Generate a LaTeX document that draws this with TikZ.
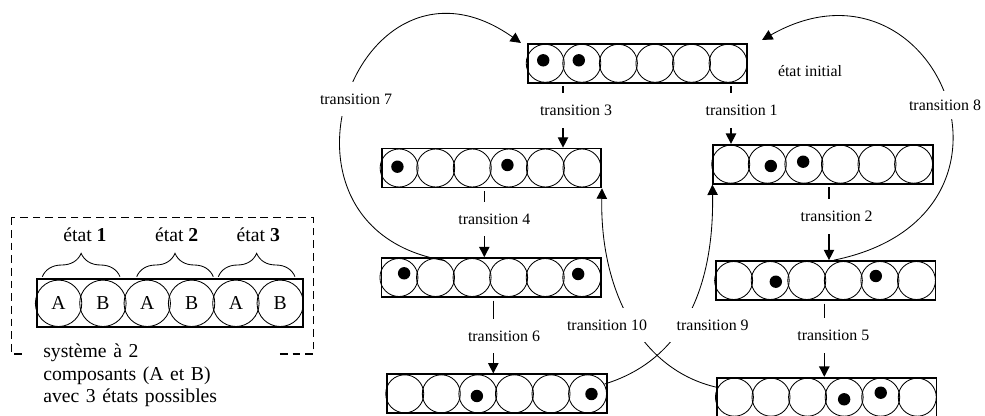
\documentclass[tikz,border=0pt]{standalone}
\usepackage{fontspec}
\setmainfont{Liberation Serif}
\usetikzlibrary{arrows.meta, calc, decorations.pathreplacing}

\begin{document}
\begin{tikzpicture}[
        x=0.025cm, y=-0.025cm,
        strip/.style={rectangle, draw, line width=1.2pt, minimum width=5.485cm, minimum height=0.975cm, inner sep=0pt},
        cell/.style={circle, draw, line width=0.6pt, minimum size=0.95cm, inner sep=0pt},
        dot/.style={circle, fill, minimum size=0.31cm, inner sep=0pt},
        keystrip/.style={rectangle, draw, line width=1.2pt, minimum width=6.65cm, minimum height=1.2cm, inner sep=0pt},
        keycell/.style={circle, draw, line width=0.6pt, minimum size=1.16cm, inner sep=0pt, font=\fontsize{14}{16}\selectfont},
        keytext/.style={font=\fontsize{14}{16}\selectfont},
        tlabel/.style={fill=white, inner xsep=5pt, inner ysep=8.5pt, text height=7.5pt, text depth=0pt, font=\fontsize{11.3}{13}\selectfont},
        arrow/.style={-{Triangle[length=2.6mm, width=2.6mm]}, line width=0.9pt},
        curved/.style={-{Triangle[length=2.6mm, width=2.6mm]}, line width=0.6pt},
        brace/.style={decorate, decoration={brace, amplitude=0.585cm}, line width=0.6pt}
    ]
    \useasboundingbox (0,0) rectangle (985,415);

    % legende
    \draw[dash pattern=on 5.5pt off 3.5pt, line width=0.9pt] (11.7,217.3) rectangle (313.3,354);
    \node[keystrip] (key) at (170.3,303.3) {};
    \foreach \i/\l in {1/A,2/B,3/A,4/B,5/A,6/B}
        \node[keycell] (key-\i) at ($(key.west)+({44.33*\i-22.17},0)$) {\l};
    \draw[brace] (42.3,276.7) -- (120,276.7);
    \draw[brace] (136.7,276.7) -- (213.3,276.7);
    \draw[brace] (218.3,276.7) -- (295,276.7);
    \node[keytext] (e1) at (85,235) {état \textbf{1}};
    \node[keytext] (e2) at (176.7,235) {état \textbf{2}};
    \node[keytext] (e3) at (258.3,235) {état \textbf{3}};
    \node[keytext, anchor=north west, fill=white, text width=5.4cm, inner xsep=0.45cm, inner ysep=2pt, align=left] (note) at (25,341)
        {système à 2\\composants (A et B)\\avec 3 états possibles};

    % etats
    \foreach \s/\x/\y in {init/637.5/63.3, left1/491.4/168, right1/823/164.2, left2/491.2/277.5,
                           right2/825.9/280.5, left3/497/393.8, right3/826.7/397.2} {
        \node[strip] (\s) at (\x,\y) {};
        \foreach \i in {1,...,6}
            \node[cell] (\s-\i) at ($(\s.west)+({36.57*\i-18.27},0)$) {};
    }
    \foreach \c/\dx/\dy in {init-1/-2/-3, init-2/-3/-3, left1-1/-1.7/-1.3, left1-4/-1.4/-3,
                            right1-2/3.5/1.8, right1-3/-0.7/-2.5, left2-1/5.2/-4.2, left2-6/-3.6/-3.5,
                            right2-2/5.6/1.2, right2-5/-4.1/-4.5, left3-3/-1/2.2, left3-6/3.9/0.2,
                            right3-4/0/2.1, right3-5/0/-4.5}
        \node[dot] at ($(\c)+(\dx,\dy)$) {};
    \node[font=\fontsize{11.3}{13}\selectfont] (initlbl) at (810,71) {état initial};

    % transitions
    \draw[arrow, shorten <=2pt] (init.south-|563,0) -- (left1.north-|563,0);
    \draw[arrow, shorten <=2pt] (init.south-|731,0) -- (right1.north-|731,0);
    \draw[arrow, shorten <=2pt] (left1.south-|484.3,0) -- (left2.north-|484.3,0);
    \draw[arrow, shorten <=2pt] (right1.south-|829,0) -- (right2.north-|829,0);
    \draw[arrow, shorten <=2pt] (left2.south-|493.3,0) -- (left3.north-|493.3,0);
    \draw[arrow, shorten <=2pt] (right2.south-|824.3,0) -- (right3.north-|824.3,0);

    \draw[curved] (left2-2.60) .. controls (249,228) and (358,-72) .. ($(init.north west)+(-6,0)$);
    \draw[curved] ($(right2.north)+(8,0)$) .. controls (1051,216) and (936,-59) .. ($(init.north east)+(14,-3)$);
    \draw[curved] (left3-6.30) .. controls (683,360) and (714,288) .. (right1.south west);
    \draw[curved] (right3-1.150) .. controls (639,370) and (600,288) .. (left1.south east);

    \node[tlabel] (t3) at (576,110.5) {transition 3};
    \node[tlabel] (t1) at (741.7,110.5) {transition 1};
    \node[tlabel] (t4) at (494.3,219) {transition 4};
    \node[tlabel] (t2) at (836.7,216.3) {transition 2};
    \node[tlabel] (t6) at (504,335.8) {transition 6};
    \node[tlabel] (t5) at (833.3,335.3) {transition 5};
    \node[tlabel] (t7) at (356,99) {transition 7};
    \node[tlabel, inner ysep=6pt] (t8) at (945,105) {transition 8};
    \node[tlabel] (t10) at (607,325) {transition 10};
    \node[tlabel] (t9) at (712.7,325) {transition 9};
\end{tikzpicture}
\end{document}
